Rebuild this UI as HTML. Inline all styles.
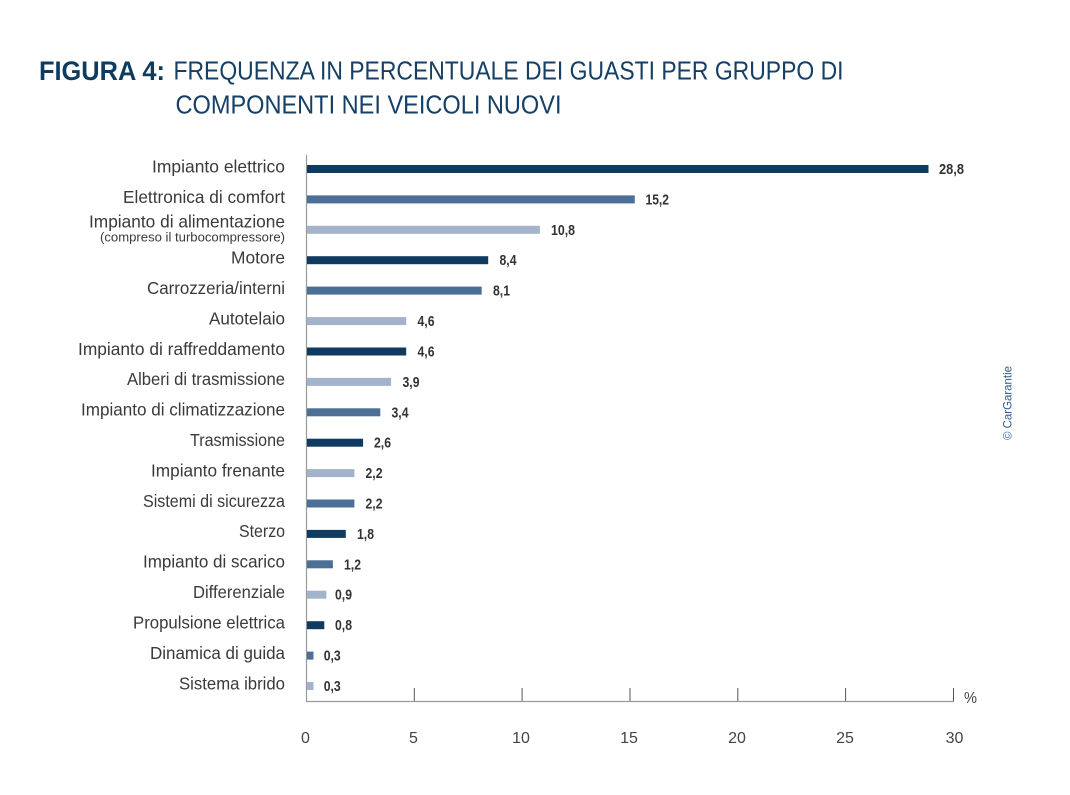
<!DOCTYPE html>
<html>
<head>
<meta charset="utf-8">
<style>
  html, body { margin:0; padding:0; background:#ffffff; }
  body { width:1070px; height:795px; overflow:hidden; }
  svg { display:block; }
  .lbl { font-family:"Liberation Sans", sans-serif; font-size:17.5px; fill:#3a3a3a; }
  .val { font-family:"Liberation Sans", sans-serif; font-size:14.5px; font-weight:bold; fill:#333333; }
  .tick { font-family:"Liberation Sans", sans-serif; font-size:16px; fill:#444444; }
</style>
</head>
<body>
<svg width="1070" height="795" viewBox="0 0 1070 795" xmlns="http://www.w3.org/2000/svg">
  <!-- Title -->
  <text x="39" y="80" font-family="Liberation Sans, sans-serif" font-size="26.5" font-weight="bold" fill="#0f3b5f" textLength="126" lengthAdjust="spacingAndGlyphs">FIGURA 4:</text>
  <text x="173.5" y="79.5" font-family="Liberation Sans, sans-serif" font-size="26" fill="#163f66" textLength="670" lengthAdjust="spacingAndGlyphs">FREQUENZA IN PERCENTUALE DEI GUASTI PER GRUPPO DI</text>
  <text x="175.5" y="113.5" font-family="Liberation Sans, sans-serif" font-size="26" fill="#163f66" textLength="386" lengthAdjust="spacingAndGlyphs">COMPONENTI NEI VEICOLI NUOVI</text>

  <!-- Axis lines -->
  <line x1="306.5" y1="155" x2="306.5" y2="702" stroke="#9a9a9a" stroke-width="1.2"/>
  <line x1="306" y1="701.5" x2="954" y2="701.5" stroke="#9a9a9a" stroke-width="1.2"/>
  <g stroke="#555555" stroke-width="1">
    <line x1="414.3" y1="688" x2="414.3" y2="701"/>
    <line x1="522.1" y1="688" x2="522.1" y2="701"/>
    <line x1="630" y1="688" x2="630" y2="701"/>
    <line x1="737.8" y1="688" x2="737.8" y2="701"/>
    <line x1="845.6" y1="688" x2="845.6" y2="701"/>
    <line x1="953.5" y1="688" x2="953.5" y2="701"/>
  </g>
  <g class="tick" text-anchor="middle">
    <text x="305.5" y="743">0</text>
    <text x="413.5" y="743">5</text>
    <text x="521" y="743">10</text>
    <text x="629" y="743">15</text>
    <text x="737" y="743">20</text>
    <text x="845" y="743">25</text>
    <text x="954.5" y="743">30</text>
  </g>
  <text x="964" y="703" font-family="Liberation Sans, sans-serif" font-size="16" fill="#444444" textLength="13" lengthAdjust="spacingAndGlyphs">%</text>

  <!-- Bars -->
  <g>
    <rect x="307" y="165" width="621.5" height="8" fill="#0f3b60"/>
    <rect x="307" y="195.4" width="327.8" height="8" fill="#4b6f95"/>
    <rect x="307" y="225.8" width="232.9" height="8" fill="#a3b3cb"/>
    <rect x="307" y="256.2" width="181.2" height="8" fill="#0f3b60"/>
    <rect x="307" y="286.6" width="174.7" height="8" fill="#4b6f95"/>
    <rect x="307" y="317.1" width="99.2" height="8" fill="#a3b3cb"/>
    <rect x="307" y="347.5" width="99.2" height="8" fill="#0f3b60"/>
    <rect x="307" y="377.9" width="84.1" height="8" fill="#a3b3cb"/>
    <rect x="307" y="408.3" width="73.3" height="8" fill="#4b6f95"/>
    <rect x="307" y="438.7" width="56.1" height="8" fill="#0f3b60"/>
    <rect x="307" y="469.1" width="47.4" height="8" fill="#a3b3cb"/>
    <rect x="307" y="499.5" width="47.4" height="8" fill="#4b6f95"/>
    <rect x="307" y="529.9" width="38.8" height="8" fill="#0f3b60"/>
    <rect x="307" y="560.3" width="25.9" height="8" fill="#4b6f95"/>
    <rect x="307" y="590.7" width="19.4" height="8" fill="#a3b3cb"/>
    <rect x="307" y="621.2" width="17.3" height="8" fill="#0f3b60"/>
    <rect x="307" y="651.6" width="6.5" height="8" fill="#4b6f95"/>
    <rect x="307" y="682" width="6.5" height="8" fill="#a3b3cb"/>
  </g>

  <!-- Value labels -->
  <g class="val">
    <text x="939" y="174" textLength="25" lengthAdjust="spacingAndGlyphs">28,8</text>
    <text x="645.5" y="204.4" textLength="23.5" lengthAdjust="spacingAndGlyphs">15,2</text>
    <text x="551" y="234.8" textLength="24" lengthAdjust="spacingAndGlyphs">10,8</text>
    <text x="499.5" y="265.2" textLength="17" lengthAdjust="spacingAndGlyphs">8,4</text>
    <text x="493" y="295.6" textLength="17" lengthAdjust="spacingAndGlyphs">8,1</text>
    <text x="417.5" y="326.1" textLength="17" lengthAdjust="spacingAndGlyphs">4,6</text>
    <text x="417.5" y="356.5" textLength="17" lengthAdjust="spacingAndGlyphs">4,6</text>
    <text x="402.5" y="386.9" textLength="17" lengthAdjust="spacingAndGlyphs">3,9</text>
    <text x="391.5" y="417.3" textLength="17" lengthAdjust="spacingAndGlyphs">3,4</text>
    <text x="374" y="447.7" textLength="17" lengthAdjust="spacingAndGlyphs">2,6</text>
    <text x="365.5" y="478.1" textLength="17" lengthAdjust="spacingAndGlyphs">2,2</text>
    <text x="365.5" y="508.5" textLength="17" lengthAdjust="spacingAndGlyphs">2,2</text>
    <text x="357" y="538.9" textLength="17" lengthAdjust="spacingAndGlyphs">1,8</text>
    <text x="344" y="569.3" textLength="17" lengthAdjust="spacingAndGlyphs">1,2</text>
    <text x="335" y="599.7" textLength="17" lengthAdjust="spacingAndGlyphs">0,9</text>
    <text x="335" y="630.2" textLength="17" lengthAdjust="spacingAndGlyphs">0,8</text>
    <text x="323.7" y="660.6" textLength="17" lengthAdjust="spacingAndGlyphs">0,3</text>
    <text x="323.7" y="691" textLength="17" lengthAdjust="spacingAndGlyphs">0,3</text>
  </g>

  <!-- Category labels -->
  <g class="lbl" text-anchor="end">
    <text x="285" y="172.7" textLength="133" lengthAdjust="spacingAndGlyphs">Impianto elettrico</text>
    <text x="285" y="203.1" textLength="162" lengthAdjust="spacingAndGlyphs">Elettronica di comfort</text>
    <text x="285" y="227.3" textLength="196" lengthAdjust="spacingAndGlyphs">Impianto di alimentazione</text>
    <text x="285" y="263.5" textLength="54" lengthAdjust="spacingAndGlyphs">Motore</text>
    <text x="285" y="294" textLength="138" lengthAdjust="spacingAndGlyphs">Carrozzeria/interni</text>
    <text x="285" y="324.4" textLength="76" lengthAdjust="spacingAndGlyphs">Autotelaio</text>
    <text x="285" y="354.8" textLength="207" lengthAdjust="spacingAndGlyphs">Impianto di raffreddamento</text>
    <text x="285" y="385.2" textLength="158" lengthAdjust="spacingAndGlyphs">Alberi di trasmissione</text>
    <text x="285" y="415.6" textLength="204" lengthAdjust="spacingAndGlyphs">Impianto di climatizzazione</text>
    <text x="285" y="446" textLength="95" lengthAdjust="spacingAndGlyphs">Trasmissione</text>
    <text x="285" y="476.4" textLength="134" lengthAdjust="spacingAndGlyphs">Impianto frenante</text>
    <text x="285" y="506.8" textLength="142" lengthAdjust="spacingAndGlyphs">Sistemi di sicurezza</text>
    <text x="285" y="537.2" textLength="46" lengthAdjust="spacingAndGlyphs">Sterzo</text>
    <text x="285" y="567.6" textLength="142" lengthAdjust="spacingAndGlyphs">Impianto di scarico</text>
    <text x="285" y="598" textLength="92" lengthAdjust="spacingAndGlyphs">Differenziale</text>
    <text x="285" y="628.5" textLength="152" lengthAdjust="spacingAndGlyphs">Propulsione elettrica</text>
    <text x="285" y="658.9" textLength="135" lengthAdjust="spacingAndGlyphs">Dinamica di guida</text>
    <text x="285" y="689.3" textLength="106" lengthAdjust="spacingAndGlyphs">Sistema ibrido</text>
  </g>
  <text x="285" y="241.5" text-anchor="end" font-family="Liberation Sans, sans-serif" font-size="12.5" fill="#3a3a3a" textLength="185" lengthAdjust="spacingAndGlyphs">(compreso il turbocompressore)</text>

  <!-- Copyright -->
  <text transform="translate(1011.5,403) rotate(-90)" text-anchor="middle" font-family="Liberation Sans, sans-serif" font-size="12" fill="#2d5b8c" textLength="74" lengthAdjust="spacingAndGlyphs">© CarGarantie</text>
</svg>
</body>
</html>
